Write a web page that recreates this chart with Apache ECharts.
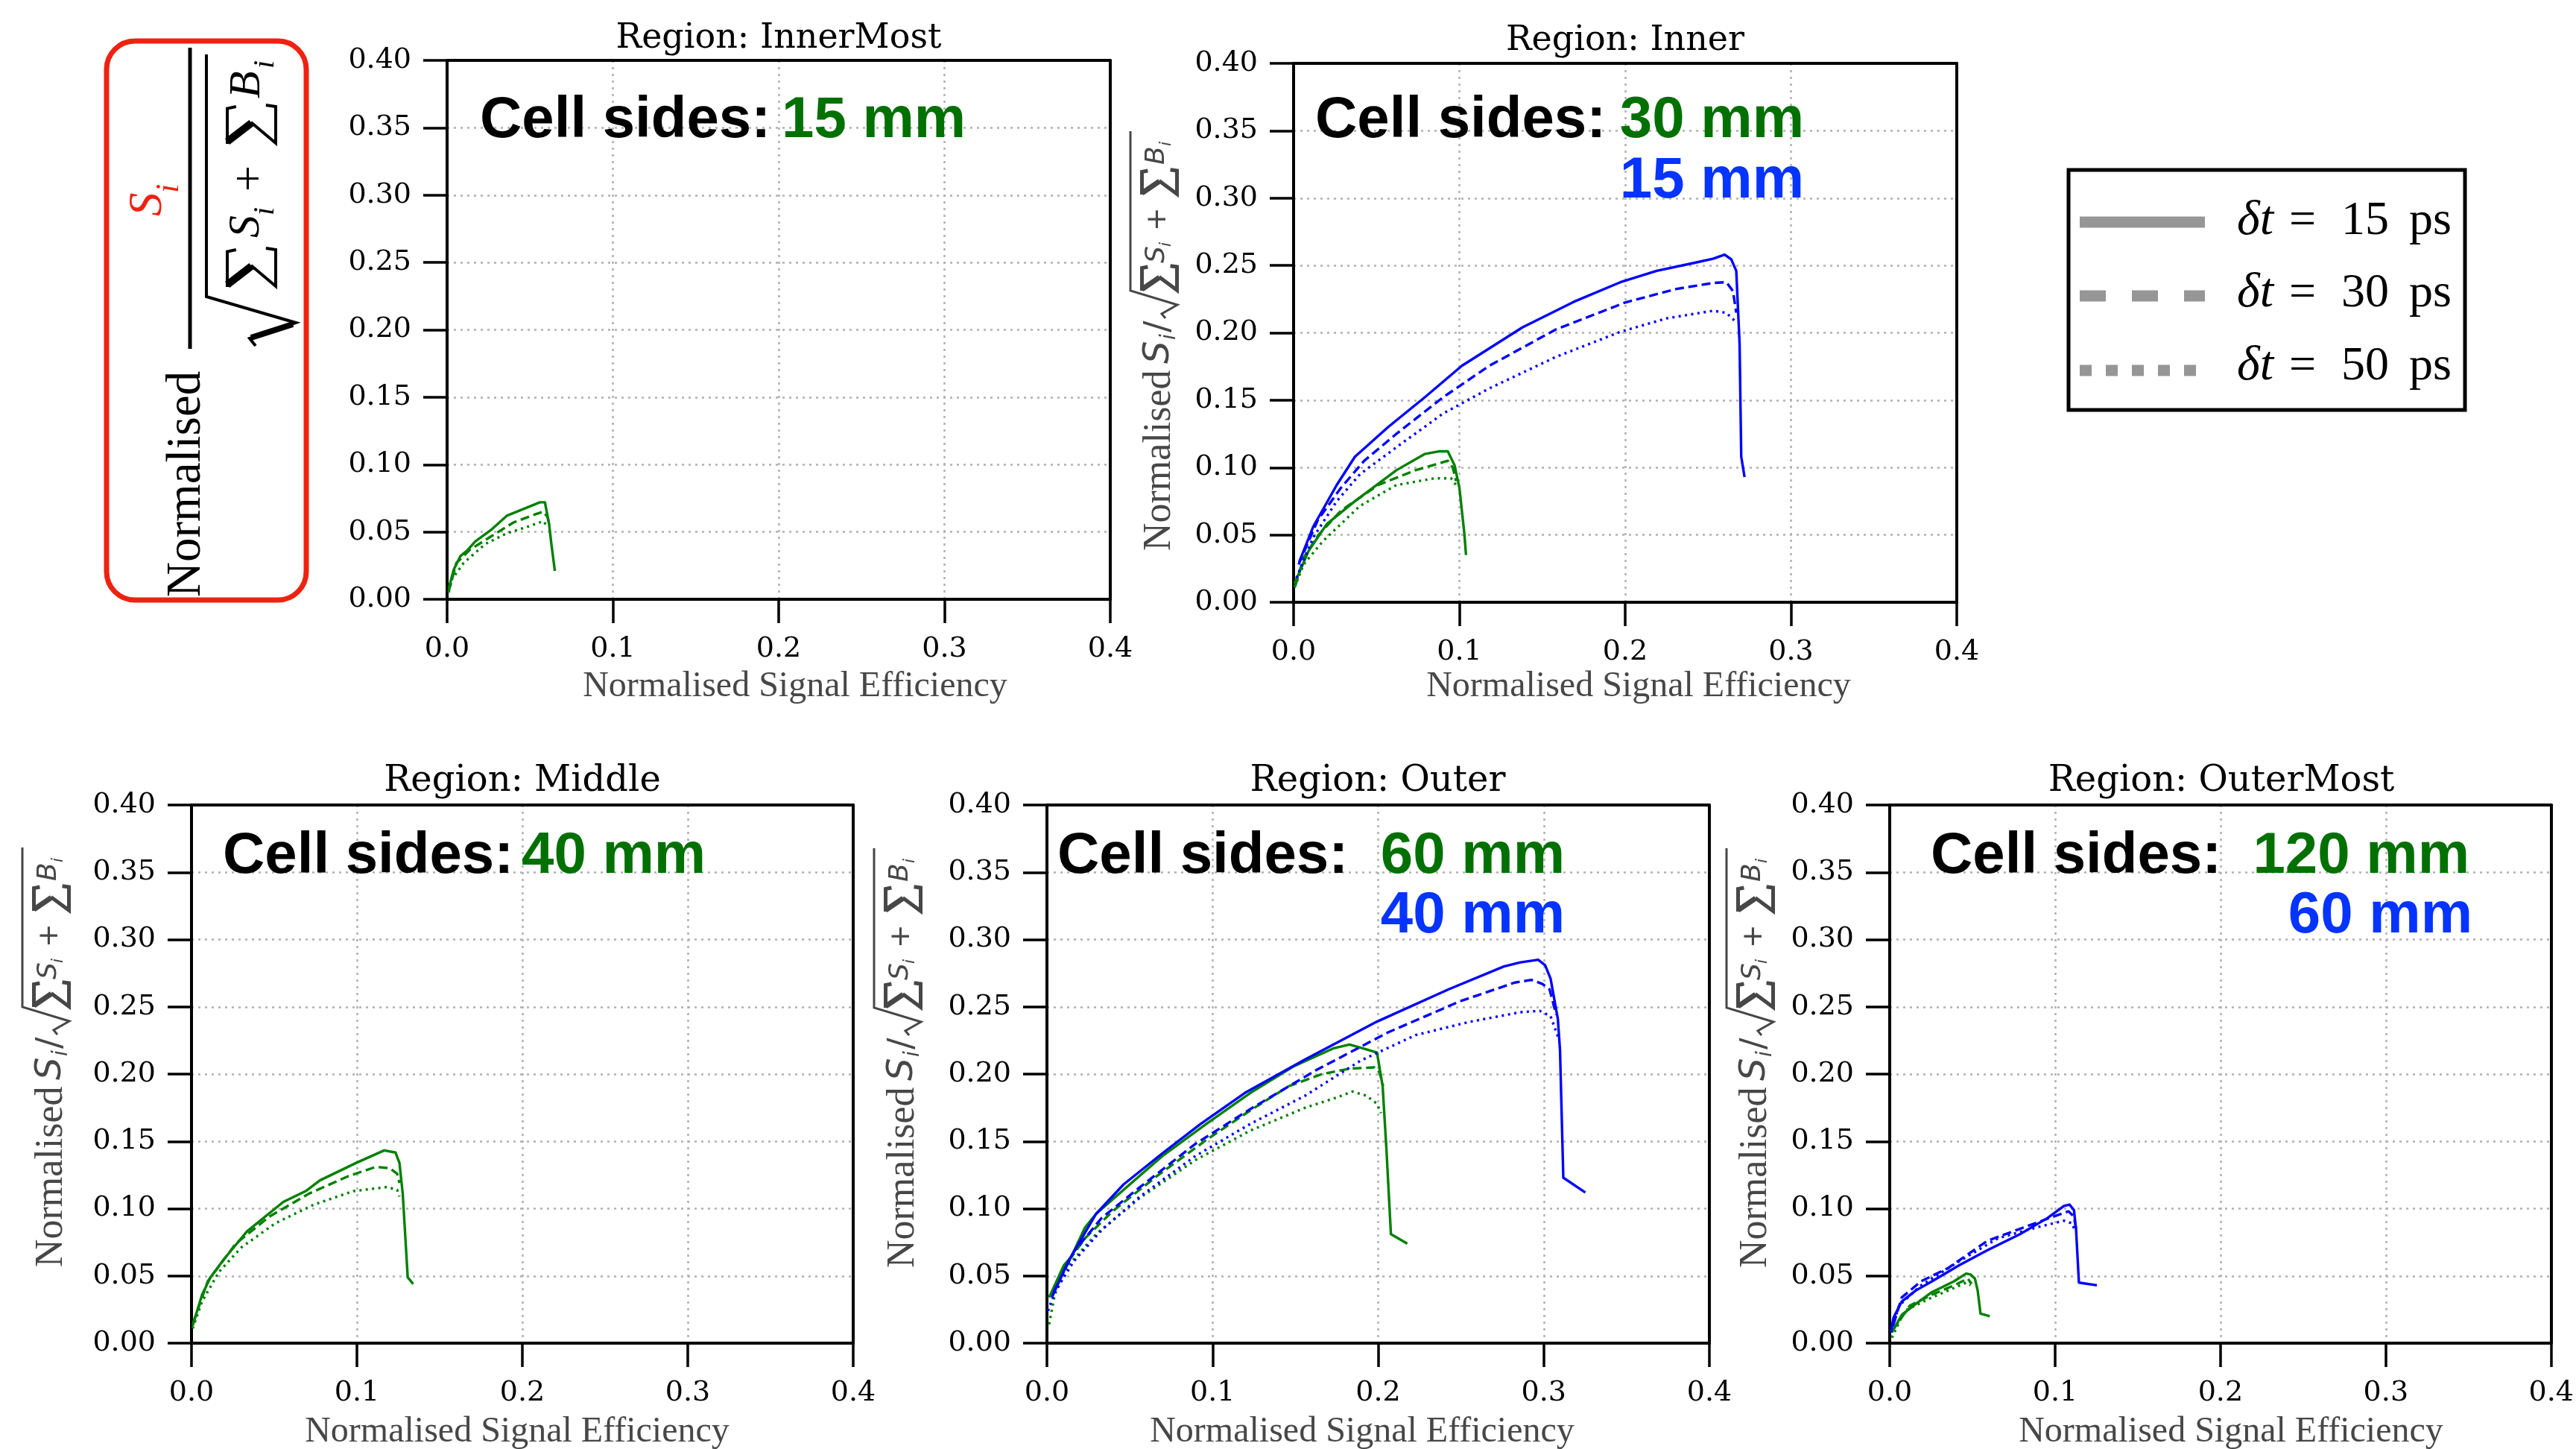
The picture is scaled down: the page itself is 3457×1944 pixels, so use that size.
<!DOCTYPE html>
<html>
<head>
<meta charset="utf-8">
<script src="https://cdn.jsdelivr.net/npm/echarts@6.0.0/dist/echarts.min.js"></script>
<style>
html,body{margin:0;padding:0;background:#ffffff;}
#chart{width:3457px;height:1944px;}
</style>
</head>
<body>
<div id="chart"></div>
<script>
// ---------------- categories & tick labels ----------------
const regionNames = ['InnerMost', 'Inner', 'Middle', 'Outer', 'OuterMost'];
const cellSides = [['15 mm'], ['30 mm', '15 mm'], ['40 mm'], ['60 mm', '40 mm'], ['120 mm', '60 mm']];
const timeResolutions = ['15', '30', '50'];
const xTickLabels = ['0.0', '0.1', '0.2', '0.3', '0.4'];
const yTickLabels = ['0.00', '0.05', '0.10', '0.15', '0.20', '0.25', '0.30', '0.35', '0.40'];

// ---------------- series values: [signal efficiency, normalised S/sqrt(S+B)] ----------------
// Region InnerMost, 15 mm cells
const innerMost_15mm_dt15 = [[0.001,0.008],[0.004,0.022],[0.008,0.032],[0.012,0.036],[0.017,0.043],[0.027,0.052],[0.036,0.062],[0.048,0.068],[0.056,0.072],[0.059,0.072],[0.0615,0.056],[0.063,0.040],[0.065,0.021]];
const innerMost_15mm_dt30 = [[0.001,0.006],[0.0056,0.027],[0.014,0.037],[0.027,0.047],[0.040,0.057],[0.053,0.063],[0.058,0.065],[0.0606,0.061],[0.0615,0.056]];
const innerMost_15mm_dt50 = [[0.001,0.005],[0.003,0.015],[0.010,0.027],[0.023,0.041],[0.036,0.049],[0.049,0.054],[0.058,0.058],[0.0606,0.054]];

// Region Inner, 30 mm cells
const inner_30mm_dt15 = [[0.0006,0.014],[0.009,0.038],[0.020,0.058],[0.037,0.075],[0.062,0.098],[0.079,0.110],[0.0875,0.112],[0.093,0.112],[0.097,0.102],[0.100,0.085],[0.103,0.051],[0.104,0.035]];
const inner_30mm_dt30 = [[0.001,0.012],[0.006,0.033],[0.015,0.050],[0.0286,0.068],[0.051,0.087],[0.0735,0.098],[0.0875,0.103],[0.093,0.105],[0.096,0.100],[0.098,0.090]];
const inner_30mm_dt50 = [[0.0006,0.011],[0.006,0.028],[0.0174,0.045],[0.040,0.0715],[0.062,0.087],[0.085,0.092],[0.095,0.092],[0.098,0.087]];
// Region Inner, 15 mm cells
const inner_15mm_dt15 = [[0.0034,0.030],[0.0118,0.056],[0.026,0.087],[0.037,0.108],[0.057,0.130],[0.079,0.152],[0.1015,0.1755],[0.138,0.204],[0.169,0.223],[0.197,0.2375],[0.219,0.246],[0.242,0.252],[0.253,0.255],[0.260,0.258],[0.264,0.2545],[0.267,0.246],[0.269,0.192],[0.270,0.108],[0.272,0.093]];
const inner_15mm_dt30 = [[0.003,0.028],[0.0146,0.061],[0.0286,0.085],[0.0426,0.105],[0.062,0.125],[0.090,0.152],[0.118,0.1755],[0.158,0.2024],[0.200,0.2225],[0.231,0.2326],[0.253,0.237],[0.261,0.2376],[0.265,0.231],[0.267,0.215]];
const inner_15mm_dt50 = [[0.0017,0.018],[0.0118,0.048],[0.026,0.075],[0.040,0.095],[0.062,0.115],[0.090,0.140],[0.118,0.1587],[0.158,0.182],[0.197,0.2007],[0.225,0.2107],[0.253,0.2164],[0.261,0.2148],[0.266,0.209]];

// Region Middle, 40 mm cells
const middle_40mm_dt15 = [[0.0007,0.013],[0.0064,0.036],[0.0115,0.049],[0.020,0.063],[0.0335,0.083],[0.0555,0.105],[0.069,0.113],[0.0776,0.121],[0.0996,0.134],[0.1165,0.1433],[0.1233,0.1417],[0.1257,0.134],[0.1277,0.111],[0.1307,0.049],[0.134,0.044]];
const middle_40mm_dt30 = [[0.001,0.015],[0.0098,0.046],[0.0268,0.074],[0.047,0.094],[0.0708,0.111],[0.0945,0.124],[0.1114,0.131],[0.1199,0.130],[0.1243,0.126],[0.1257,0.119]];
const middle_40mm_dt50 = [[0.0007,0.011],[0.0064,0.031],[0.0166,0.053],[0.030,0.071],[0.0505,0.089],[0.074,0.103],[0.0979,0.113],[0.118,0.116],[0.1243,0.114],[0.1257,0.109]];

// Region Outer, 60 mm cells
const outer_60mm_dt15 = [[0.0013,0.034],[0.0103,0.058],[0.0146,0.064],[0.023,0.086],[0.0296,0.096],[0.0463,0.114],[0.0696,0.139],[0.0962,0.163],[0.1228,0.186],[0.1494,0.206],[0.1727,0.219],[0.1827,0.222],[0.191,0.219],[0.1993,0.216],[0.2027,0.191],[0.205,0.144],[0.2077,0.081],[0.2176,0.074]];
const outer_60mm_dt30 = [[0.002,0.035],[0.013,0.061],[0.023,0.078],[0.0396,0.098],[0.0662,0.124],[0.0962,0.151],[0.1228,0.173],[0.146,0.191],[0.166,0.200],[0.1827,0.204],[0.1977,0.205],[0.201,0.201],[0.203,0.191]];
const outer_60mm_dt50 = [[0.0013,0.014],[0.0047,0.036],[0.013,0.058],[0.0296,0.081],[0.0562,0.108],[0.0895,0.136],[0.1228,0.158],[0.156,0.175],[0.176,0.183],[0.1844,0.187],[0.1927,0.184],[0.1993,0.178],[0.2017,0.171]];
// Region Outer, 40 mm cells
const outer_40mm_dt15 = [[0.003,0.034],[0.013,0.061],[0.0296,0.096],[0.0463,0.118],[0.0696,0.141],[0.0928,0.163],[0.1195,0.186],[0.156,0.211],[0.1993,0.239],[0.2426,0.263],[0.2759,0.280],[0.2859,0.283],[0.2966,0.285],[0.3008,0.281],[0.3041,0.271],[0.3085,0.241],[0.3098,0.218],[0.3118,0.123],[0.3251,0.112]];
const outer_40mm_dt30 = [[0.004,0.038],[0.0163,0.068],[0.033,0.093],[0.0562,0.116],[0.0895,0.148],[0.1228,0.174],[0.1627,0.203],[0.206,0.231],[0.2492,0.254],[0.2825,0.268],[0.2925,0.270],[0.2992,0.267],[0.3035,0.263],[0.3075,0.244]];
const outer_40mm_dt50 = [[0.0007,0.024],[0.0047,0.038],[0.0163,0.061],[0.033,0.084],[0.0562,0.109],[0.0895,0.139],[0.1228,0.163],[0.156,0.184],[0.1894,0.210],[0.2226,0.229],[0.2559,0.239],[0.2859,0.246],[0.2975,0.247],[0.3041,0.243],[0.3085,0.228]];

// Region OuterMost, 120 mm cells
const outerMost_120mm_dt15 = [[0.0013,0.008],[0.0073,0.021],[0.0156,0.029],[0.0256,0.038],[0.0389,0.046],[0.0462,0.0517],[0.0489,0.051],[0.0515,0.048],[0.0532,0.039],[0.0549,0.022],[0.0605,0.020]];
const outerMost_120mm_dt30 = [[0.002,0.010],[0.0123,0.028],[0.0256,0.036],[0.0389,0.043],[0.0472,0.048],[0.0495,0.044]];
const outerMost_120mm_dt50 = [[0.0013,0.004],[0.009,0.024],[0.0256,0.034],[0.0389,0.041],[0.0462,0.045],[0.0489,0.043]];
// Region OuterMost, 60 mm cells
const outerMost_60mm_dt15 = [[0.0007,0.008],[0.0023,0.019],[0.0073,0.031],[0.0156,0.039],[0.0256,0.046],[0.0422,0.058],[0.0589,0.069],[0.0788,0.081],[0.0954,0.093],[0.1054,0.102],[0.1087,0.103],[0.1114,0.099],[0.1127,0.084],[0.1144,0.045],[0.1253,0.043]];
const outerMost_60mm_dt30 = [[0.0023,0.014],[0.0073,0.034],[0.019,0.046],[0.0356,0.056],[0.0589,0.076],[0.0788,0.085],[0.0988,0.094],[0.1081,0.098],[0.1114,0.094],[0.1127,0.085]];
const outerMost_60mm_dt50 = [[0.0007,0.008],[0.0057,0.028],[0.019,0.043],[0.0422,0.061],[0.0655,0.078],[0.0888,0.086],[0.1054,0.091],[0.1104,0.089],[0.112,0.083]];

// ---------------- styling / layout (not data) ----------------
const GREEN = '#008000', BLUE = '#0000ff';
const GREEN_TXT = '#007000', BLUE_TXT = '#0533ff';
const LABEL_GRAY = '#474747';
const lineTypes = ['solid', [12, 6], [3, 5.5]];

const panelCurves = [
  [{ color: GREEN, lines: [innerMost_15mm_dt15, innerMost_15mm_dt30, innerMost_15mm_dt50] }],
  [{ color: GREEN, lines: [inner_30mm_dt15, inner_30mm_dt30, inner_30mm_dt50] },
   { color: BLUE,  lines: [inner_15mm_dt15, inner_15mm_dt30, inner_15mm_dt50] }],
  [{ color: GREEN, lines: [middle_40mm_dt15, middle_40mm_dt30, middle_40mm_dt50] }],
  [{ color: GREEN, lines: [outer_60mm_dt15, outer_60mm_dt30, outer_60mm_dt50] },
   { color: BLUE,  lines: [outer_40mm_dt15, outer_40mm_dt30, outer_40mm_dt50] }],
  [{ color: GREEN, lines: [outerMost_120mm_dt15, outerMost_120mm_dt30, outerMost_120mm_dt50] },
   { color: BLUE,  lines: [outerMost_60mm_dt15, outerMost_60mm_dt30, outerMost_60mm_dt50] }]
];

const layout = [
  { left: 600,  top: 81,   width: 890, height: 723, title: [1045, 52],   titleSize: 46, xName: [1067, 921],
    cell: { x: 644, y: 162, sizes: [{ x: 1049, y: 162, align: 'left' }] }, yLab: null },
  { left: 1736, top: 85,   width: 890, height: 723, title: [2181, 55],   titleSize: 46, xName: [2199, 921],
    cell: { x: 1765, y: 162, sizes: [{ x: 2421, y: 162, align: 'right' }, { x: 2421, y: 243, align: 'right' }] }, yLab: [1556, 739] },
  { left: 257,  top: 1080, width: 888, height: 722, title: [701, 1049], titleSize: 48, xName: [694, 1921],
    cell: { x: 299, y: 1149, sizes: [{ x: 700, y: 1149, align: 'left' }] }, yLab: [69, 1700] },
  { left: 1405, top: 1080, width: 889, height: 722, title: [1849, 1049], titleSize: 48, xName: [1828, 1921],
    cell: { x: 1419, y: 1149, sizes: [{ x: 2100, y: 1149, align: 'right' }, { x: 2100, y: 1229, align: 'right' }] }, yLab: [1212, 1701] },
  { left: 2536, top: 1080, width: 889, height: 722, title: [2981, 1049], titleSize: 48, xName: [2994, 1921],
    cell: { x: 2591, y: 1149, sizes: [{ x: 3314, y: 1149, align: 'right' }, { x: 3318, y: 1229, align: 'right' }] }, yLab: [2356, 1701] }
];

function txt(text, x, y, size, family, fill, opts) {
  opts = opts || {};
  return {
    type: 'text', x: x, y: y, silent: true, z: opts.z || 10,
    style: {
      text: text, fill: fill, fontSize: size, fontFamily: family,
      fontStyle: opts.italic ? 'italic' : 'normal', fontWeight: opts.bold ? 'bold' : 'normal',
      align: opts.align || 'left', verticalAlign: 'middle'
    }
  };
}

// summation sign drawn as strokes inside box (u0,v0,w,h) of a rotated text frame
function sigma(u0, v0, w, h, thick, thin, color) {
  return [
    { type: 'polyline', silent: true,
      shape: { points: [[u0 + w, v0 + 0.2 * h], [u0 + 0.95 * w, v0 + thin / 2], [u0, v0 + thin / 2]] },
      style: { stroke: color, lineWidth: thin, fill: null, lineJoin: 'miter' } },
    { type: 'line', silent: true,
      shape: { x1: u0 + 0.06 * w, y1: v0 + thin / 2, x2: u0 + 0.56 * w, y2: v0 + 0.5 * h },
      style: { stroke: color, lineWidth: thick } },
    { type: 'polyline', silent: true,
      shape: { points: [[u0 + 0.58 * w, v0 + 0.49 * h], [u0 + 0.02 * w, v0 + h - thin / 2], [u0 + w, v0 + h - thin / 2], [u0 + 1.04 * w, v0 + 0.78 * h]] },
      style: { stroke: color, lineWidth: thin, fill: null, lineJoin: 'miter' } }
  ];
}

function yLabelGroup(X0, Y0) {
  const c = LABEL_GRAY;
  return {
    type: 'group', x: X0, y: Y0, rotation: Math.PI / 2, silent: true,
    children: [
      txt('Normalised', 0, 0, 52, '"Liberation Serif"', c),
      txt('S', 251, 0, 48, '"DejaVu Sans"', c, { italic: true }),
      txt('i', 283, 14, 28, '"DejaVu Sans"', c, { italic: true }),
      txt('/', 293, 0, 46, '"DejaVu Sans"', c),
      { type: 'polyline', silent: true, shape: { points: [[312, 8], [318, 3], [330, 24], [349, -39], [563, -39]] },
        style: { stroke: c, lineWidth: 3, fill: null } },
      ...sigma(349, -26, 32, 52, 7, 5, c),
      txt('S', 386, -3, 36, '"DejaVu Sans"', c, { italic: true }),
      txt('i', 408, 9, 22, '"DejaVu Sans"', c, { italic: true }),
      txt('+', 429, -2, 38, '"DejaVu Sans"', c),
      ...sigma(478, -26, 32, 52, 7, 5, c),
      txt('B', 518, -3, 36, '"DejaVu Sans"', c, { italic: true }),
      txt('i', 543, 9, 22, '"DejaVu Sans"', c, { italic: true })
    ]
  };
}

function formulaBox() {
  const red = '#ee2211';
  return [
    { type: 'rect', silent: true, shape: { x: 143, y: 55, width: 268, height: 750, r: 38 },
      style: { fill: null, stroke: red, lineWidth: 7 } },
    { type: 'group', x: 255, y: 800, rotation: Math.PI / 2, silent: true,
      children: [
        txt('Normalised', -1, -4, 65, '"Liberation Serif"', '#000'),
        { type: 'line', silent: true, shape: { x1: 332, y1: 0, x2: 736, y2: 0 }, style: { stroke: '#000', lineWidth: 5 } },
        txt('S', 510, -56, 63, '"Liberation Serif"', red, { italic: true }),
        txt('i', 541, -28, 44, '"Liberation Serif"', red, { italic: true }),
        { type: 'polyline', silent: true, shape: { points: [[336, 88], [346, 80], [367, 142], [402, 22], [727, 22]] },
          style: { stroke: '#000', lineWidth: 4, fill: null } },
        { type: 'line', silent: true, shape: { x1: 347, y1: 82, x2: 365, y2: 138 }, style: { stroke: '#000', lineWidth: 8 } },
        ...sigma(415, 48, 50, 69, 10, 4, '#000'),
        txt('S', 481, 76, 60, '"Liberation Serif"', '#000', { italic: true }),
        txt('i', 511, 101, 40, '"Liberation Serif"', '#000', { italic: true }),
        txt('+', 543, 82, 62, '"Liberation Serif"', '#000'),
        ...sigma(607, 48, 50, 69, 10, 4, '#000'),
        txt('B', 668, 77, 60, '"Liberation Serif"', '#000', { italic: true }),
        txt('i', 708, 101, 40, '"Liberation Serif"', '#000', { italic: true })
      ] }
  ];
}

function legendBox() {
  const g = '#969696';
  const els = [
    { type: 'rect', silent: true, shape: { x: 2776, y: 228, width: 532, height: 322 },
      style: { fill: '#fff', stroke: '#000', lineWidth: 5 } }
  ];
  const rowY = [298, 397, 497];
  const dashes = [null, [35, 35], [16, 19]];
  const ends = [2959, 2959, 2950];
  rowY.forEach((y, k) => {
    els.push({ type: 'line', silent: true, z: 11, shape: { x1: 2791, y1: y, x2: ends[k], y2: y },
      style: { stroke: g, lineWidth: 15, lineDash: dashes[k], lineCap: 'butt' } });
    const ty = y - 1 - k * 2;
    els.push(txt('\u03B4t', 3002, ty, 66, '"Liberation Serif"', '#000', { italic: true, z: 11 }));
    els.push(txt('=', 3072, ty, 64, '"Liberation Serif"', '#000', { z: 11 }));
    els.push(txt(timeResolutions[k], 3142, ty, 64, '"Liberation Serif"', '#000', { z: 11 }));
    els.push(txt('ps', 3233, ty, 64, '"Liberation Serif"', '#000', { z: 11 }));
  });
  return els;
}

const graphics = [];
layout.forEach((L, i) => {
  graphics.push(txt('Region: ' + regionNames[i], L.title[0], L.title[1], L.titleSize, '"DejaVu Serif"', '#000', { align: 'center' }));
  graphics.push(txt('Normalised Signal Efficiency', L.xName[0], L.xName[1], 48, '"Liberation Serif"', LABEL_GRAY, { align: 'center' }));
  graphics.push(txt('Cell sides:', L.cell.x, L.cell.y, 78, '"Liberation Sans"', '#000', { bold: true, z: 20 }));
  L.cell.sizes.forEach((s, k) => {
    graphics.push(txt(cellSides[i][k], s.x, s.y, 78, '"Liberation Sans"', k === 0 ? GREEN_TXT : BLUE_TXT, { bold: true, align: s.align, z: 20 }));
  });
  if (L.yLab) graphics.push(yLabelGroup(L.yLab[0], L.yLab[1]));
});
formulaBox().forEach(e => graphics.push(e));
legendBox().forEach(e => graphics.push(e));

const series = [];
panelCurves.forEach((sets, i) => {
  sets.forEach(set => {
    set.lines.forEach((data, k) => {
      series.push({
        type: 'line', xAxisIndex: i, yAxisIndex: i, data: data,
        name: '\u03B4t = ' + timeResolutions[k] + ' ps',
        showSymbol: false, symbol: 'none', silent: true, z: 5,
        lineStyle: { color: set.color, width: 3.4, type: lineTypes[k], cap: 'butt', join: 'round' }
      });
    });
  });
});

const splitStyle = { show: true, showMinLine: false, showMaxLine: false, lineStyle: { color: '#b0b0b0', width: 2.5, type: [3, 6] } };
const frameLine = { show: true, onZero: false, lineStyle: { color: '#000', width: 4 } };

const xAxes = [], yAxes = [];
layout.forEach((L, i) => {
  xAxes.push({
    gridIndex: i, type: 'value', min: 0, max: 0.4, interval: 0.1, position: 'bottom', z: 3,
    axisLine: frameLine,
    axisTick: { show: true, inside: false, length: 32, lineStyle: { color: '#000', width: 3.5 } },
    axisLabel: { margin: 48, fontSize: 38, fontFamily: 'DejaVu Serif', color: '#000',
      formatter: v => xTickLabels[Math.round(v * 10)] },
    splitLine: splitStyle
  });
  yAxes.push({
    gridIndex: i, type: 'value', min: 0, max: 0.4, interval: 0.05, position: 'left', z: 3,
    axisLine: frameLine,
    axisTick: { show: true, inside: false, length: 32, lineStyle: { color: '#000', width: 3.5 } },
    axisLabel: { margin: 48, fontSize: 38, fontFamily: 'DejaVu Serif', color: '#000',
      formatter: v => yTickLabels[Math.round(v * 20)] },
    splitLine: splitStyle
  });
});
// frame-closing axes (top and right edges of each panel)
layout.forEach((L, i) => {
  xAxes.push({ gridIndex: i, type: 'value', min: 0, max: 0.4, position: 'top', z: 3,
    axisLine: frameLine, axisTick: { show: false }, axisLabel: { show: false }, splitLine: { show: false } });
  yAxes.push({ gridIndex: i, type: 'value', min: 0, max: 0.4, position: 'right', z: 3,
    axisLine: frameLine, axisTick: { show: false }, axisLabel: { show: false }, splitLine: { show: false } });
});

const option = {
  animation: false,
  backgroundColor: '#ffffff',
  grid: layout.map(L => ({ left: L.left, top: L.top, width: L.width, height: L.height,
    show: false, containLabel: false })),
  xAxis: xAxes,
  yAxis: yAxes,
  series: series,
  graphic: { elements: graphics }
};

const chart = echarts.init(document.getElementById('chart'), null, { renderer: 'canvas', width: 3457, height: 1944 });
chart.setOption(option);
</script>
</body>
</html>
